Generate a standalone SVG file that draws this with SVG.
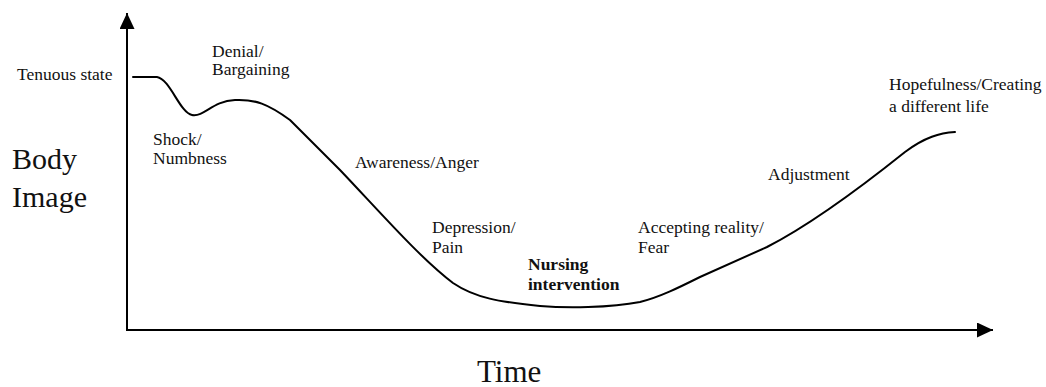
<svg xmlns="http://www.w3.org/2000/svg" width="1046" height="387" viewBox="0 0 1046 387">
<style>
.lbl{font-family:"Liberation Serif","Times New Roman",serif;font-size:17.5px;fill:#111}
.big{font-family:"Liberation Serif","Times New Roman",serif;font-size:30px;fill:#111}
.bold{font-weight:bold}
.ax{stroke:#000;stroke-width:2;fill:none}
.crv{stroke:#000;stroke-width:2;fill:none;stroke-linejoin:round;stroke-linecap:round}
</style>
<defs>
<marker id="arr" viewBox="0 0 16 15" refX="16" refY="7.5" markerWidth="16" markerHeight="15" markerUnits="userSpaceOnUse" orient="auto">
<path d="M0,0 L16,7.5 L0,15 Z" fill="#000"/>
</marker>
</defs>
<rect width="1046" height="387" fill="#fff"/>
<g id="connectors">
<path class="ax" d="M127,330 L127,13" marker-end="url(#arr)"/>
<path class="ax" d="M126,330 L993,330" marker-end="url(#arr)"/>
<path id="curve" class="crv" d="M133,77 L157,77 C170,79 180,113 192,115 C205,117 212,101 235,100 C255,99 268,104 290,120 L340,170 C380,212 420,258 453,283 C475,298 500,302 540,306 C565,308 610,308 640,302 C660,297 680,287 700,277 L767,247 C810,225 860,188 905,152 C925,137 940,133 955,132"/>
</g>
<g id="axis-y-label"><text class="big" x="12" y="169">Body</text><text class="big" x="12" y="207">Image</text></g>
<g id="axis-x-label"><text class="big" x="477" y="382" style="font-size:31px">Time</text></g>
<g id="tenuous"><text class="lbl" x="17" y="80">Tenuous state</text></g>
<g id="denial"><text class="lbl" x="212" y="57">Denial/</text><text class="lbl" x="212" y="75">Bargaining</text></g>
<g id="shock"><text class="lbl" x="153" y="145">Shock/</text><text class="lbl" x="153" y="164">Numbness</text></g>
<g id="awareness"><text class="lbl" x="355" y="168">Awareness/Anger</text></g>
<g id="depression"><text class="lbl" x="432" y="233">Depression/</text><text class="lbl" x="432" y="253">Pain</text></g>
<g id="nursing"><text class="lbl bold" x="528" y="270">Nursing</text><text class="lbl bold" x="528" y="290">intervention</text></g>
<g id="accepting"><text class="lbl" x="638" y="233">Accepting reality/</text><text class="lbl" x="638" y="253">Fear</text></g>
<g id="adjustment"><text class="lbl" x="768" y="180">Adjustment</text></g>
<g id="hopefulness"><text class="lbl" x="889" y="90">Hopefulness/Creating</text><text class="lbl" x="889" y="112">a different life</text></g>
</svg>
